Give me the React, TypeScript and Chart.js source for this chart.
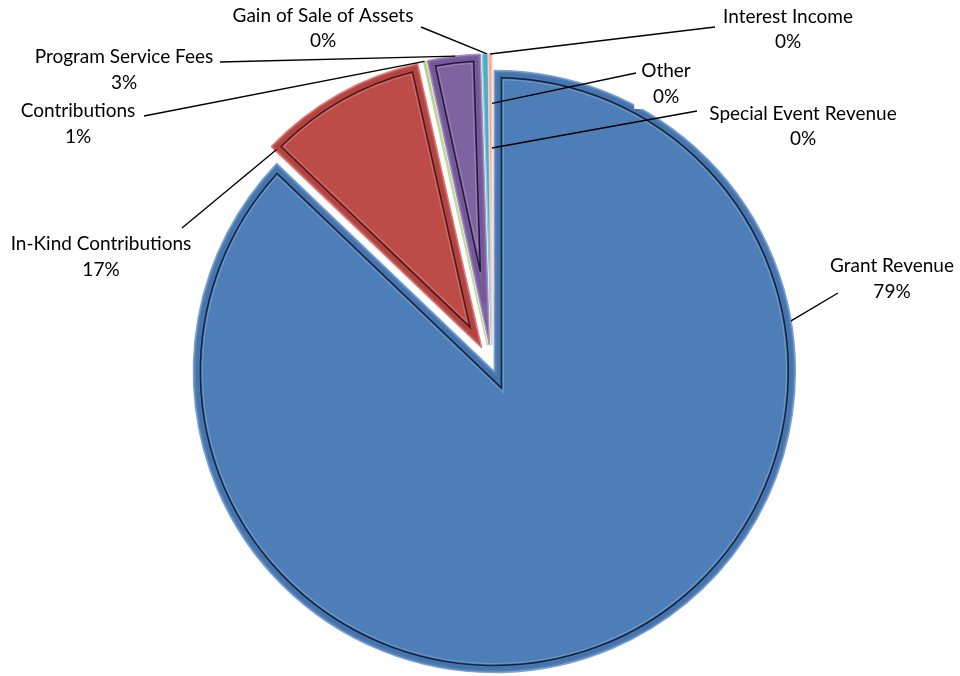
import React, { useEffect, useRef } from "react";
import { Chart, PieController, ArcElement } from "chart.js";

Chart.register(PieController, ArcElement);

const categories = [
  "Grant Revenue",
  "In-Kind Contributions",
  "Contributions",
  "Program Service Fees",
  "Gain of Sale of Assets",
  "Interest Income",
  "Other",
  "Special Event Revenue",
];
const sliceShares = [87.14, 9.33, 0.11, 2.92, 0.31, 0.19, 0, 0];
const percentLabels = ["79%", "17%", "1%", "3%", "0%", "0%", "0%", "0%"];

// ---- styles ----
const fillColors = ["#4E7EB8", "#BD4C49", "#9BBB59", "#7F63A1", "#4BACC6", "#F2A797", "#2C4D75", "#772C2A"];
const rimColors = ["#7EA2CF", "#D9817D", "#C4D99C", "#A38FC0", "#8BCDDD", "#F8CDC2", "#2C4D75", "#772C2A"];
const bandColors = ["#4673AB", "#AF4341", null, "#735797", null, null, null, null];
const bevelLineColors = ["#13253F", "#4E1817", null, "#24193A", null, null, null, null];
const explodeBy = [6, 21, 21, 21, 21, 21, 21, 21];
const shrinkBy = [1, 0.967, 0.967, 0.967, 0.967, 0.967, 0.967, 0.967];

// ---- label layout ----
const labelX = [892, 101, 78, 124, 323, 788, 666, 803];
const labelBase1 = [272, 250, 117, 63, 22, 23, 77, 120];
const labelBase2 = [298, 276, 143, 89, 47, 48, 103, 145];
const leaderStart = [
  [838, 293],
  [182, 228],
  [144, 116],
  [220, 62],
  [421, 27],
  [715, 27],
  [636, 73],
  [697, 111],
];
const leaderFrac = [0.256, 0.01, 0.5, 0.53, 0.8, 0.5, 0, 0];
const leaderRad = [1, 0.98, 1, 1, 1, 1, 0.83, 0.677];
const FONT = "19px Lato";

function sliceTransform(arc: any, i: number) {
  const mid = (arc.startAngle + arc.endAngle) / 2;
  const e = explodeBy[i];
  return { ox: arc.x + Math.cos(mid) * e, oy: arc.y + Math.sin(mid) * e, s: shrinkBy[i] };
}

function mapPoint(arc: any, i: number, px: number, py: number) {
  const t = sliceTransform(arc, i);
  return [t.ox + (px - arc.x) * t.s, t.oy + (py - arc.y) * t.s];
}

function insetPath(ctx: CanvasRenderingContext2D, cx: number, cy: number, r: number, a0: number, a1: number, d: number) {
  const h = (a1 - a0) / 2;
  const mid = a0 + h;
  const k = d / Math.sin(h);
  const ax = cx + Math.cos(mid) * k;
  const ay = cy + Math.sin(mid) * k;
  const delta = Math.asin(d / (r - d));
  ctx.beginPath();
  ctx.moveTo(ax, ay);
  ctx.arc(cx, cy, r - d, a0 + delta, a1 - delta);
  ctx.closePath();
}

const explodePlugin = {
  id: "explodeSlices",
  beforeDatasetsDraw(chart: any) {
    const ctx: CanvasRenderingContext2D = chart.ctx;
    const meta = chart.getDatasetMeta(0);
    meta.data.forEach((arc: any, i: number) => {
      const t = sliceTransform(arc, i);
      ctx.save();
      ctx.translate(t.ox, t.oy);
      ctx.scale(t.s, t.s);
      ctx.translate(-arc.x, -arc.y);
      arc.draw(ctx);
      if (bandColors[i] && arc.circumference > 0.05) {
        const { x, y, startAngle, endAngle, outerRadius } = arc;
        ctx.lineJoin = "miter";
        ctx.miterLimit = 4;
        insetPath(ctx, x, y, outerRadius, startAngle, endAngle, 4);
        ctx.strokeStyle = bandColors[i] as string;
        ctx.lineWidth = 3;
        ctx.stroke();
        insetPath(ctx, x, y, outerRadius, startAngle, endAngle, 7);
        ctx.strokeStyle = bevelLineColors[i] as string;
        ctx.lineWidth = 1.6;
        ctx.stroke();
        insetPath(ctx, x, y, outerRadius, startAngle, endAngle, 9);
        ctx.strokeStyle = "rgba(255,255,255,0.18)";
        ctx.lineWidth = 1.2;
        ctx.stroke();
      }
      ctx.restore();
    });
    return false;
  },
};

const labelPlugin = {
  id: "calloutLabels",
  afterDraw(chart: any) {
    const ctx: CanvasRenderingContext2D = chart.ctx;
    const meta = chart.getDatasetMeta(0);
    ctx.save();
    ctx.font = FONT;
    // label backgrounds
    categories.forEach((name, i) => {
      const w = Math.max(ctx.measureText(name).width, ctx.measureText(percentLabels[i]).width);
      const left = labelX[i] - w / 2 - 7;
      const top = labelBase1[i] - 17;
      ctx.fillStyle = "#ffffff";
      ctx.fillRect(left, top, w + 14, labelBase2[i] + 6 - top);
    });
    // leader lines
    ctx.strokeStyle = "#000000";
    ctx.lineWidth = 1.4;
    categories.forEach((_, i) => {
      const arc = meta.data[i];
      const ang = arc.startAngle + leaderFrac[i] * (arc.endAngle - arc.startAngle);
      const px = arc.x + Math.cos(ang) * arc.outerRadius * leaderRad[i];
      const py = arc.y + Math.sin(ang) * arc.outerRadius * leaderRad[i];
      const [ex, ey] = mapPoint(arc, i, px, py);
      ctx.beginPath();
      ctx.moveTo(leaderStart[i][0], leaderStart[i][1]);
      ctx.lineTo(ex, ey);
      ctx.stroke();
    });
    // texts
    ctx.fillStyle = "#000000";
    ctx.textAlign = "center";
    ctx.textBaseline = "alphabetic";
    categories.forEach((name, i) => {
      ctx.fillText(name, labelX[i], labelBase1[i]);
      ctx.fillText(percentLabels[i], labelX[i], labelBase2[i]);
    });
    ctx.restore();
  },
};

export default function App() {
  const canvasRef = useRef<HTMLCanvasElement | null>(null);

  useEffect(() => {
    document.body.style.margin = "0";
    const canvas = canvasRef.current;
    if (!canvas) return;
    const chart = new Chart(canvas, {
      type: "pie",
      data: {
        labels: categories,
        datasets: [
          {
            data: sliceShares,
            backgroundColor: fillColors,
            borderColor: rimColors,
            borderWidth: 1.5,
            radius: 301,
            offset: 0,
            hoverOffset: 0,
            clip: false,
          } as any,
        ],
      },
      options: {
        responsive: false,
        animation: false,
        devicePixelRatio: 1,
        events: [],
        layout: { padding: { left: 124, right: 100, top: 106, bottom: 50 } },
        plugins: { legend: { display: false }, tooltip: { enabled: false } },
      } as any,
      plugins: [explodePlugin, labelPlugin] as any,
    });
    const fonts: any = (document as any).fonts;
    if (fonts && fonts.load) {
      fonts.load(FONT).then(() => chart.draw()).catch(() => {});
    }
    return () => chart.destroy();
  }, []);

  return (
    <div style={{ width: 960, height: 676, background: "#ffffff" }}>
      <canvas ref={canvasRef} width={960} height={676} style={{ display: "block", width: 960, height: 676 }} />
    </div>
  );
}
